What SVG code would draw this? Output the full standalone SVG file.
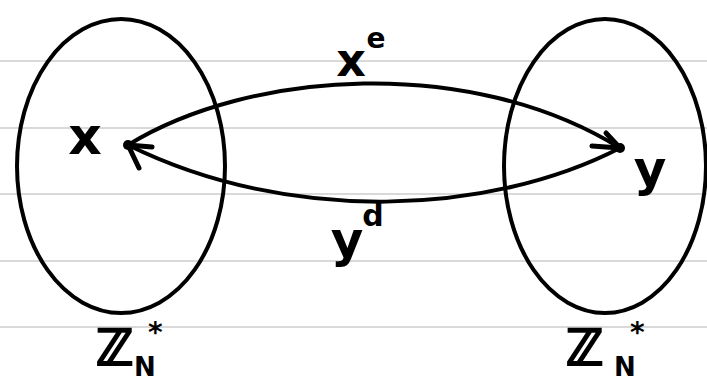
<svg xmlns="http://www.w3.org/2000/svg" width="707" height="382" viewBox="0 0 707 382">
<defs>
<style>
.rule{stroke:#d9d9d9;stroke-width:2}
.set{fill:none;stroke:#000;stroke-width:4}
.arc{fill:none;stroke:#000;stroke-width:4;stroke-linecap:round}
.barb{fill:none;stroke:#000;stroke-width:5;stroke-linecap:round;stroke-linejoin:round}
.lbl{font-family:"DejaVu Sans","Liberation Sans",sans-serif;font-weight:bold;fill:#000}
.zz{stroke:#000;stroke-width:2}
</style>
</defs>
<rect width="707" height="382" fill="#fff"/>
<g id="rules">
<line class="rule" x1="0" y1="61" x2="707" y2="61"/>
<line class="rule" x1="0" y1="128" x2="707" y2="128"/>
<line class="rule" x1="0" y1="194" x2="707" y2="194"/>
<line class="rule" x1="0" y1="261" x2="707" y2="261"/>
<line class="rule" x1="0" y1="327" x2="707" y2="327"/>
</g>
<g id="setLeft">
<ellipse class="set" cx="121" cy="166" rx="104" ry="147"/>
<text class="lbl zz" x="96" y="365" font-size="50">ℤ</text>
<text class="lbl" x="134" y="376" font-size="26">N</text>
<text class="lbl" x="148" y="342" font-size="28">*</text>
</g>
<g id="setRight">
<ellipse class="set" cx="605" cy="166" rx="101" ry="147"/>
<text class="lbl zz" x="566" y="365" font-size="50">ℤ</text>
<text class="lbl" x="614" y="376" font-size="26">N</text>
<text class="lbl" x="630" y="342" font-size="28">*</text>
</g>
<g id="nodeX">
<circle cx="128" cy="145" r="5"/>
<text class="lbl" x="85" y="154" font-size="52" text-anchor="middle">x</text>
</g>
<g id="nodeY">
<circle cx="620" cy="148" r="5"/>
<text class="lbl" x="650" y="186" font-size="50" text-anchor="middle">y</text>
</g>
<g id="connectors">
<path class="arc" d="M128,145 C250,70 470,55 620,148"/>
<path class="barb" d="M606,133 L620,148 L592,146"/>
<path class="arc" d="M620,148 C490,215 290,225 128,145"/>
<path class="barb" d="M152,147 L128,145 L139,168"/>
<text class="lbl" x="351" y="76" font-size="46" text-anchor="middle">x</text>
<text class="lbl" x="376" y="48" font-size="28" text-anchor="middle">e</text>
<text class="lbl" x="347" y="257" font-size="50" text-anchor="middle">y</text>
<text class="lbl" x="373" y="226" font-size="30" text-anchor="middle">d</text>
</g>
</svg>
